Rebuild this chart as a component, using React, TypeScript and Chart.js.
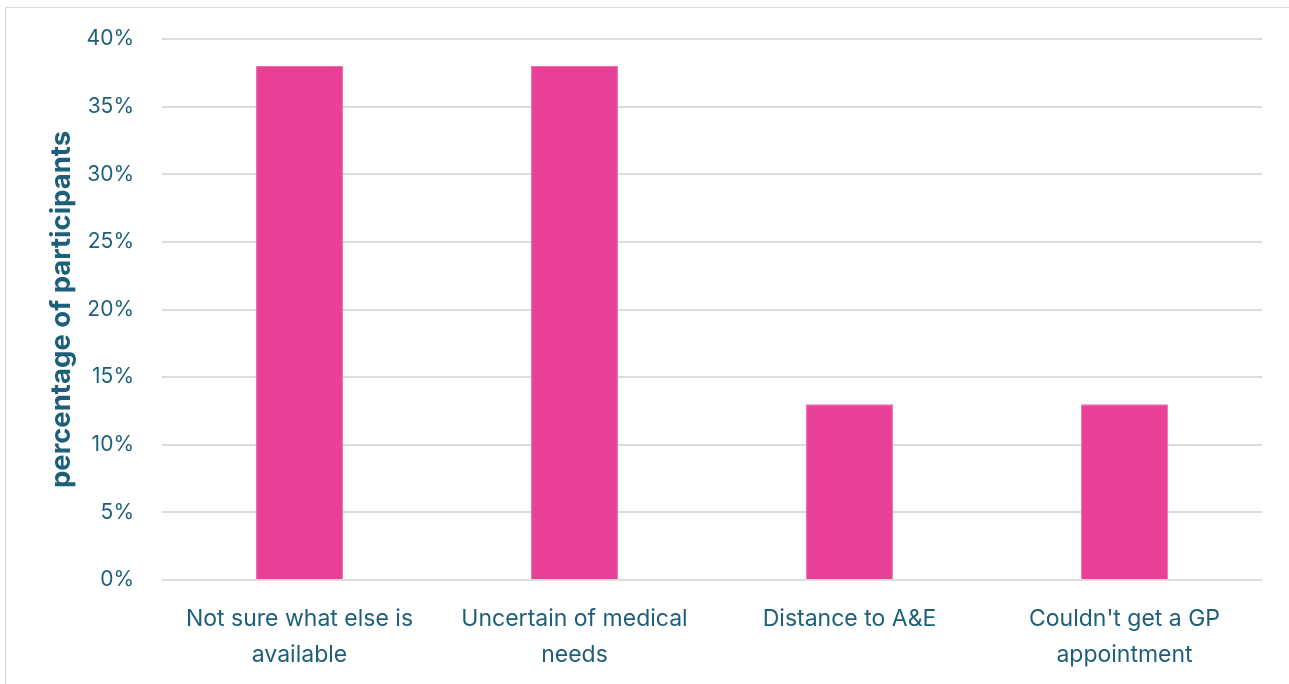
import React, { useEffect, useRef } from "react";
import { Chart, registerables } from "chart.js";

Chart.register(...registerables);

const categories: (string | string[])[] = [
  ["Not sure what else is", "available"],
  ["Uncertain of medical", "needs"],
  "Distance to A&E",
  ["Couldn't get a GP", "appointment"],
];
const values = [38, 38, 13, 13];
const yTicks = [0, 5, 10, 15, 20, 25, 30, 35, 40];
const yTitle = "percentage of participants";

const TEXT = "#1D5F7B";
const FONT = "Inter, 'Open Sans', sans-serif";

export default function App() {
  const ref = useRef<HTMLCanvasElement | null>(null);
  useEffect(() => {
    if (!ref.current) return;
    const chart = new Chart(ref.current, {
      type: "bar",
      data: {
        labels: categories,
        datasets: [
          {
            data: values,
            backgroundColor: "#E83F97",
            borderColor: "#EC6AAE",
            borderWidth: 1,
            barPercentage: 0.316,
            categoryPercentage: 1,
          },
        ],
      },
      options: {
        animation: false,
        responsive: false,
        maintainAspectRatio: false,
        layout: { padding: { left: 0, top: 39, right: 27, bottom: 0 } },
        plugins: { legend: { display: false }, tooltip: { enabled: false } },
        scales: {
          x: {
            grid: { display: false, drawTicks: false },
            border: { display: false },
            ticks: {
              color: TEXT,
              font: { family: FONT, size: 23, lineHeight: 1.58 },
              padding: 21,
              maxRotation: 0,
              autoSkip: false,
            },
            afterFit: (s: any) => {
              s.height = 104;
            },
          },
          y: {
            min: 0,
            max: 40,
            afterBuildTicks: (s: any) => {
              s.ticks = yTicks.map((v) => ({ value: v }));
            },
            grid: { color: "#dcdcdc", lineWidth: 2, drawTicks: false },
            border: { display: false },
            ticks: {
              color: TEXT,
              font: { family: FONT, size: 21 },
              padding: 28,
              callback: (v: any) => v + "%",
            },
            title: {
              display: true,
              text: yTitle,
              color: TEXT,
              font: { family: FONT, size: 27.5, weight: "bold" },
              padding: { top: 45, bottom: 0 },
            },
            afterFit: (s: any) => {
              s.width = 162;
              s.paddingTop = 0;
              s.paddingBottom = 0;
            },
          },
        },
      },
    });
    return () => chart.destroy();
  }, []);
  return (
    <div
      style={{
        position: "absolute",
        left: 0,
        top: 0,
        width: 1289,
        height: 684,
        background: "#fff",
        overflow: "hidden",
      }}
    >
      <div
        style={{
          position: "absolute",
          left: 5,
          top: 7,
          width: 1400,
          height: 800,
          border: "1px solid #d9d9d9",
          boxSizing: "border-box",
        }}
      />
      <canvas
        ref={ref}
        width={1289}
        height={684}
        style={{ position: "absolute", left: 0, top: 0, width: 1289, height: 684 }}
      />
    </div>
  );
}
